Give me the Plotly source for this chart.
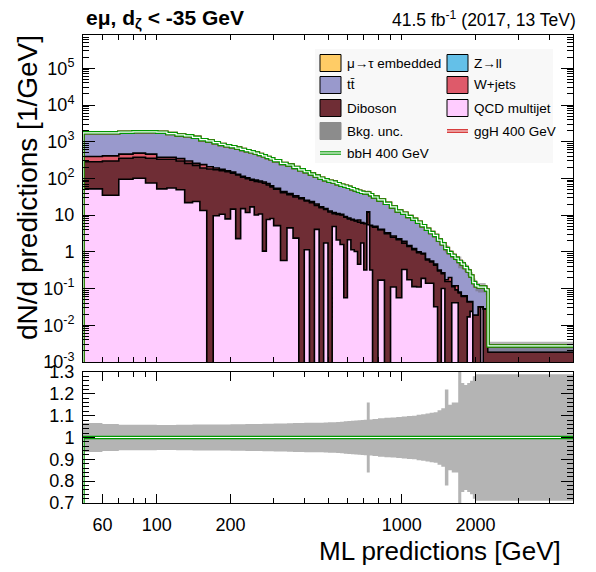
import numpy as np
import plotly.graph_objects as go

# bin edges of the ML prediction (GeV)
edges = [50, 60, 70, 80, 90, 100, 110, 120, 130, 140, 150, 160, 170, 180, 190, 200,
         210, 220, 230, 240, 250, 260, 270, 280, 290, 300,
         320, 340, 360, 380, 400, 420, 440, 460, 480, 500, 520, 540, 560, 580, 600,
         620, 640, 660, 680, 700,
         720, 740, 760, 800, 850, 900, 950, 1000,
         1050, 1100, 1150, 1200, 1250, 1300, 1350, 1400, 1450, 1500, 1550, 1600, 1650,
         1700, 1750, 1800, 1850, 1900, 1950, 2000, 2050, 2100, 2150, 2200, 2250,
         5000]

# background yields per GeV
qcd = [52, 35, 95, 101, 75, 52, 55, 49, 22, 23.5, 13.4, 0, 9.6, 10.6, 7.9, 14.6, 2.3, 15.1, 11.8, 16.8,
       10.1, 10.7, 1.05, 7.6, 8.1,
       5.2, 0.58, 4.5, 2.36, 0, 1.14, 0, 4.1, 0, 1.75, 0, 4.9, 2.1, 1.58, 0.056, 2.14, 1.14, 1.02, 0.46, 1.75,
       0.32, 5.5, 0.32, 0, 0.17, 0, 0.11, 0.056,
       0.33, 0.174, 0.113, 0.11, 0.19, 0.14, 0.14, 0.032, 0, 0.1, 0, 0, 0.041, 0.041, 0, 0, 0, 0.017, 0.024,
       0, 0, 0, 0.032, 0, 0,
       0]
diboson = [234, 264, 259, 277, 279, 281, 278, 250, 235, 203.5, 178.6, 180, 162.4, 151.4, 144.1, 124.4, 122.7,
           92.9, 86.2, 73.2, 72.9, 69.3, 72.95, 58.4, 50.9,
           45.8, 40.4, 31.5, 28.8, 27.9, 23.3, 21.8, 14.4, 16, 12.55, 12.2, 6.0, 8.4, 8.5, 8.74, 5.76, 6.26, 5.88,
           5.99, 4.25,
           5.53, 6.6, 4.88, 4.7, 3.83, 3.1, 2.39, 2.08,
           1.40, 1.23, 1.03, 0.84, 0.685, 0.465, 0.394, 0.404, 0.303, 0.156, 0.156, 0.156, 0.072, 0.051, 0.076,
           0.061, 0.061, 0.027, 0.02, 0.019, 0.019, 0.032, 0, 0.028, 0.028,
           0.00188]
wjets = [109, 112, 104, 110, 104, 45, 45, 48, 42, 30, 46, 29, 20, 14, 10, 10, 5, 6, 6, 4, 7, 5, 6, 6, 4,
         3, 3, 2.5, 2.4, 1.6, 1.0, 1.7, 1.7, 0.8, 0.8, 0.8, 0.9, 0.6, 0.4, 0.4, 0.4, 0.3, 0.3, 0.95, 0.3,
         0.15, 0.2, 0.1, 0.3, 0.1, 0.2, 0.2, 0.14,
         0.2, 0.09, 0.09, 0.05, 0.045, 0.035, 0.026, 0.027, 0.017, 0.014, 0.018, 0.044, 0.006, 0.027, 0.004,
         0.003, 0.003, 0, 0, 0, 0, 0, 0, 0, 0,
         0]
ttbar = [1355, 1339, 1366, 1374, 1404, 1446, 1294, 1188, 1145, 1058, 902, 840, 750, 668, 613, 584, 541, 502,
         465, 436, 401, 367, 333, 302, 280,
         250, 213, 193.5, 166.4, 142.5, 126.6, 108.5, 95.8, 85, 77, 71, 67.7, 61, 55, 52.3, 49.1, 44.8, 41.2,
         37.7, 35.5,
         34.2, 27.9, 30.8, 26.2, 21.9, 17.7, 14.1, 10.7,
         9.4, 7.7, 6.5, 5.45, 4.24, 3.49, 2.79, 2.34, 1.78, 1.39, 1.06, 0.76, 0.68, 0.55, 0.47, 0.40, 0.31,
         0.256, 0.176, 0.127, 0.10, 0.078, 0.078, 0.082, 0.064,
         0.00086]
# relative background uncertainty
bkg_unc = [0.066, 0.062, 0.058, 0.058, 0.058, 0.057, 0.057, 0.058, 0.058, 0.059, 0.059, 0.060, 0.060, 0.060,
           0.060, 0.061, 0.061, 0.061, 0.062, 0.062, 0.062, 0.062, 0.063, 0.063, 0.063,
           0.064, 0.064, 0.065, 0.066, 0.066, 0.067, 0.067, 0.068, 0.068, 0.069, 0.070, 0.070, 0.071, 0.072,
           0.074, 0.076, 0.077, 0.078, 0.079, 0.080,
           0.081, 0.16, 0.083, 0.085, 0.088, 0.090, 0.092, 0.094,
           0.096, 0.098, 0.100, 0.104, 0.107, 0.110, 0.113, 0.116, 0.125, 0.134, 0.22, 0.15, 0.16, 0.16,
           0.35, 0.25, 0.24, 0.25, 0.26, 0.28, 0.29, 0.29, 0.29, 0.29, 0.29,
           0.29]

ytick_vals = [1e-3, 1e-2, 1e-1, 1, 10, 1e2, 1e3, 1e4, 1e5]
ytick_text = ["10<sup>-3</sup>", "10<sup>-2</sup>", "10<sup>-1</sup>", "1", "10",
              "10<sup>2</sup>", "10<sup>3</sup>", "10<sup>4</sup>", "10<sup>5</sup>"]
xtick_vals = [60, 100, 200, 1000, 2000]
xminor_vals = [70, 80, 90, 300, 400, 500, 600, 700, 800, 900, 3000, 4000]

FONT = "Liberation Sans, Arial, sans-serif"
FLOOR = 1e-6


def steps(v):
    v = np.asarray(v, dtype=float)
    return np.append(v, v[-1])


# page pixels -> paper fractions (plot area spans x 83..573, y 35..503 on the page)
def px_x(p):
    return (p - 83) / 490.0


def px_y(p):
    return (503 - p) / 468.0


edges_a = np.array(edges, dtype=float)
stack = np.cumsum(np.array([qcd, diboson, wjets, ttbar], dtype=float), axis=0)
total = stack[-1]
unc = np.array(bkg_unc)

fig = go.Figure()

# invisible floor for the first fill
fig.add_trace(go.Scatter(x=edges_a, y=np.full(len(edges_a), FLOOR), mode="lines",
                         line=dict(width=0, shape="hv"), hoverinfo="skip", xaxis="x", yaxis="y"))
colors = ["#FFCCFF", "#6F2D35", "#DE5A6A", "#9999CC"]
for lev, col in zip(stack, colors):
    fig.add_trace(go.Scatter(x=edges_a, y=np.maximum(steps(lev), FLOOR), mode="lines",
                             line=dict(color="black", width=1.6, shape="hv"),
                             fill="tonexty", fillcolor=col, xaxis="x", yaxis="y"))

# background uncertainty band
fig.add_trace(go.Scatter(x=edges_a, y=steps(total * (1 - unc)), mode="lines",
                         line=dict(width=0, shape="hv"), xaxis="x", yaxis="y"))
fig.add_trace(go.Scatter(x=edges_a, y=steps(total * (1 + unc)), mode="lines",
                         line=dict(width=0, shape="hv"), fill="tonexty",
                         fillcolor="rgba(105,105,105,0.5)", xaxis="x", yaxis="y"))

# signal + background lines (double-line style)
sx = np.concatenate([[edges_a[0]], edges_a])
sy = np.concatenate([[FLOOR], steps(total)])
for col, w in [("#CC0000", 3.5), ("white", 1.2), ("#009900", 3.5), ("white", 1.2)]:
    fig.add_trace(go.Scatter(x=sx, y=sy, mode="lines", line=dict(color=col, width=w, shape="hv"),
                             xaxis="x", yaxis="y"))

# ratio panel
fig.add_trace(go.Scatter(x=edges_a, y=steps(1 - unc), mode="lines", line=dict(width=0, shape="hv"),
                         xaxis="x2", yaxis="y2"))
fig.add_trace(go.Scatter(x=edges_a, y=steps(1 + unc), mode="lines", line=dict(width=0, shape="hv"),
                         fill="tonexty", fillcolor="#B4B4B4", xaxis="x2", yaxis="y2"))
ry = np.concatenate([[0.5], steps(total / total)])
for col, w in [("#009900", 3.5), ("white", 1.2)]:
    fig.add_trace(go.Scatter(x=sx, y=ry, mode="lines", line=dict(color=col, width=w, shape="hv"),
                             xaxis="x2", yaxis="y2"))

yminor = [m * 10.0 ** e for e in range(-3, 6) for m in range(2, 10)]
axis_common = dict(showline=True, linecolor="black", linewidth=1, mirror="ticks", ticks="inside",
                   tickcolor="black", showgrid=False, zeroline=False, automargin=False,
                   tickfont=dict(family=FONT, size=18, color="black"))
xr = [np.log10(50), np.log10(5000)]

# the page adds an 8 px body margin, so the margins are shifted back by 8 px
fig.update_layout(
    width=596, height=572, template="none", showlegend=False,
    paper_bgcolor="white", plot_bgcolor="white",
    margin=dict(l=75, r=31, t=27, b=77),
    xaxis=dict(type="log", range=xr, domain=[0, 1], anchor="y", showticklabels=False,
               tickmode="array", tickvals=xtick_vals, ticklen=5,
               minor=dict(tickmode="array", tickvals=xminor_vals, ticklen=5, ticks="inside",
                          tickcolor="black"), **axis_common),
    yaxis=dict(type="log", range=[-3, 5.907], domain=[px_y(362), 1], anchor="x",
               tickmode="array", tickvals=ytick_vals, ticktext=ytick_text, ticklen=12,
               ticklabelstandoff=4,
               minor=dict(tickmode="array", tickvals=yminor, ticklen=6, ticks="inside",
                          tickcolor="black"), **axis_common),
    xaxis2=dict(type="log", range=xr, domain=[0, 1], anchor="y2", matches="x",
                tickmode="array", tickvals=xtick_vals, ticktext=[str(v) for v in xtick_vals],
                ticklen=9, ticklabelstandoff=5,
                minor=dict(tickmode="array", tickvals=xminor_vals, ticklen=5, ticks="inside",
                           tickcolor="black"), **axis_common),
    yaxis2=dict(range=[0.7, 1.3], domain=[0, px_y(372)], anchor="x2",
                tickmode="array", tickvals=[0.7, 0.8, 0.9, 1.0, 1.1, 1.2, 1.3],
                ticktext=["0.7", "0.8", "0.9", "1", "1.1", "1.2", "1.3"], ticklen=12,
                ticklabelstandoff=4,
                minor=dict(dtick=0.02, ticklen=6, ticks="inside", tickcolor="black"), **axis_common),
)

# legend, drawn by hand in ROOT style
shapes = [dict(type="rect", xref="paper", yref="paper", x0=px_x(315), x1=px_x(553),
               y0=px_y(163), y1=px_y(49), fillcolor="#F8F8F8", line=dict(width=0), layer="below")]
annots = []
legend_rows = [63, 85, 108, 131, 153]
cols = [(320, 345), (447, 472)]
entries = [
    ("\u03bc\u2192\u03c4 embedded", "#FFCC66", "box", 0, 0),
    ("Z\u2192ll", "#64C0E8", "box", 1, 0),
    ("tt\u0304", "#9999CC", "box", 0, 1),
    ("W+jets", "#DE5A6A", "box", 1, 1),
    ("Diboson", "#6F2D35", "box", 0, 2),
    ("QCD multijet", "#FFCCFF", "box", 1, 2),
    ("Bkg. unc.", "#8C8C8C", "band", 0, 3),
    ("ggH 400 GeV", "#CC0000", "line", 1, 3),
    ("bbH 400 GeV", "#009900", "line", 0, 4),
]
for label, col, kind, c, r in entries:
    bx, tx = cols[c]
    yc = legend_rows[r]
    if kind == "line":
        shapes.append(dict(type="line", xref="paper", yref="paper", x0=px_x(bx), x1=px_x(bx + 21),
                           y0=px_y(yc), y1=px_y(yc), line=dict(color=col, width=3.5)))
        shapes.append(dict(type="line", xref="paper", yref="paper", x0=px_x(bx), x1=px_x(bx + 21),
                           y0=px_y(yc), y1=px_y(yc), line=dict(color="white", width=1.2)))
    else:
        shapes.append(dict(type="rect", xref="paper", yref="paper", x0=px_x(bx), x1=px_x(bx + 21),
                           y0=px_y(yc + 8.5), y1=px_y(yc - 8.5), fillcolor=col,
                           line=dict(color="black" if kind == "box" else col, width=1)))
    annots.append(dict(xref="paper", yref="paper", x=px_x(tx), y=px_y(yc), text=label,
                       xanchor="left", yanchor="middle", showarrow=False,
                       font=dict(family=FONT, size=13.5, color="black")))

annots += [
    dict(xref="paper", yref="paper", x=px_x(84), y=px_y(19), xanchor="left", yanchor="middle",
         text="<b>e\u03bc, d<sub>\u03b6</sub> &lt; -35 GeV</b>", showarrow=False,
         font=dict(family=FONT, size=21, color="black")),
    dict(xref="paper", yref="paper", x=px_x(578), y=px_y(19), xanchor="right", yanchor="middle",
         text="41.5 fb<sup>-1</sup> (2017, 13 TeV)", showarrow=False,
         font=dict(family=FONT, size=17.5, color="black")),
    dict(xref="paper", yref="paper", x=px_x(28), y=px_y(188), xanchor="center", yanchor="middle",
         text="dN/d predictions [1/GeV]", textangle=-90, showarrow=False,
         font=dict(family=FONT, size=28, color="black")),
    dict(xref="paper", yref="paper", x=px_x(563), y=px_y(551), xanchor="right", yanchor="middle",
         text="ML predictions [GeV]", showarrow=False,
         font=dict(family=FONT, size=26, color="black")),
]
fig.update_layout(shapes=shapes, annotations=annots)

fig.write_html("out.html")
